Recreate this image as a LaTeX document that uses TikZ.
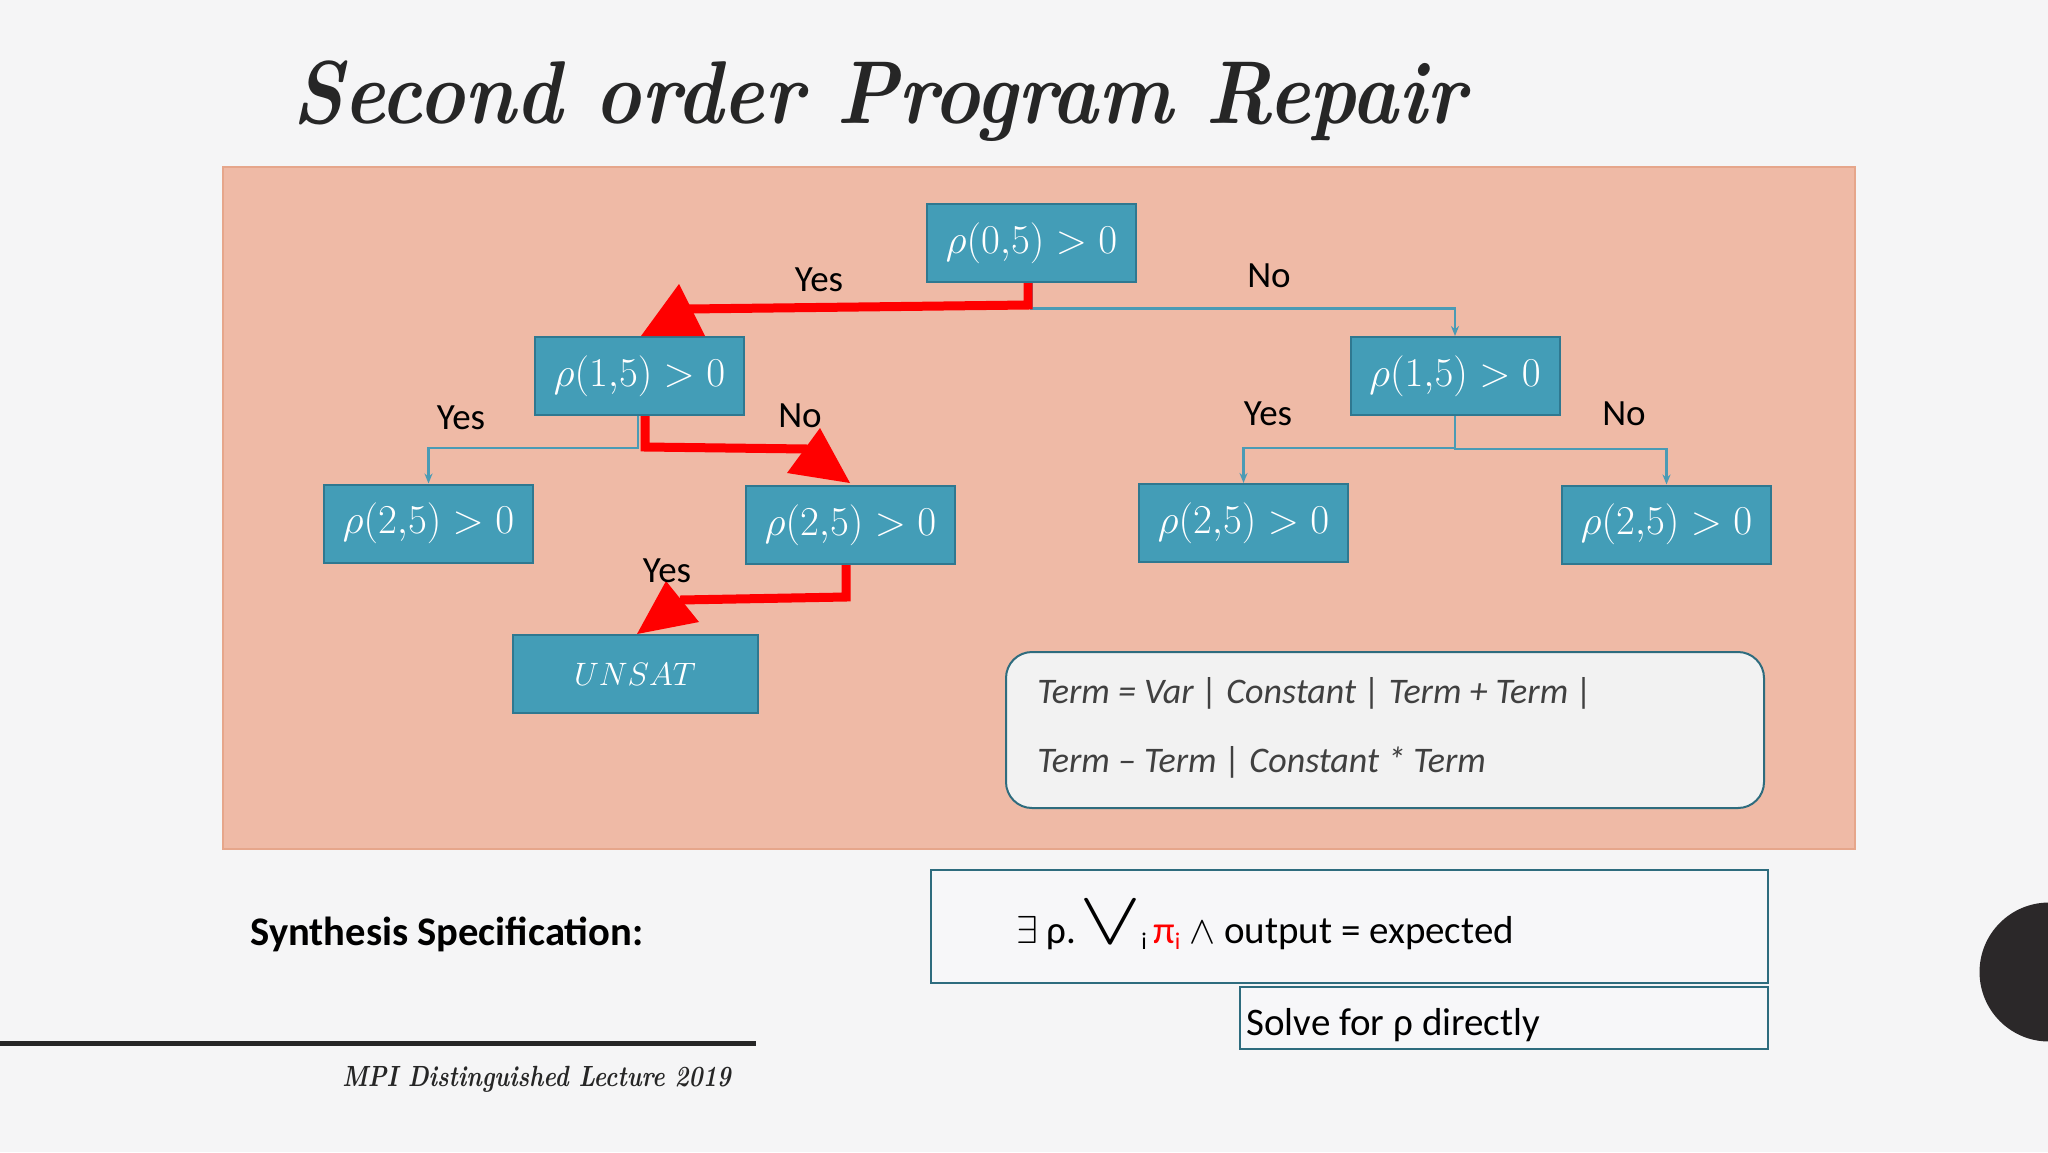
\RequirePackage{fix-cm}
\documentclass[tikz,border=0pt]{standalone}
\usepackage{fontspec}
\usepackage{graphicx}
\usetikzlibrary{arrows.meta,calc}
\newfontfamily\calib{Carlito}
\definecolor{bgc}{HTML}{F5F5F6}
\definecolor{panel}{HTML}{EFBAA6}
\definecolor{panelb}{HTML}{E6A68B}
\definecolor{nodef}{HTML}{439DB7}
\definecolor{nodeb}{HTML}{2F7890}
\definecolor{conn}{HTML}{4A9BB5}
\definecolor{gram}{HTML}{F2F2F2}
\definecolor{specf}{HTML}{F7F7F9}
\definecolor{gramb}{HTML}{2E6C7E}
\definecolor{dark}{HTML}{262626}
\definecolor{gtext}{HTML}{404040}
\definecolor{circc}{HTML}{2B2829}
\begin{document}
\begin{tikzpicture}[x=0.5pt,y=-0.5pt,
  cond/.style={rectangle, fill=nodef, draw=nodeb, line width=1pt, minimum width=104.5pt, minimum height=39pt, text=white, font=\fontsize{20.5}{24}\selectfont, inner sep=0pt},
  lbl/.style={font=\calib\fontsize{18.5}{22}\selectfont, text=black, inner sep=0pt},
  bconn/.style={draw=conn, line width=1.2pt, -{Stealth[length=5pt,width=4pt]}},
  rconn/.style={draw=red, line width=4.5pt},
  txt/.style={anchor=base west, inner sep=0pt},
]
\fill[bgc] (0,0) rectangle (2048,1152);
\useasboundingbox (0,0) rectangle (2048,1152);
% panel
\filldraw[fill=panel, draw=panelb, line width=0.75pt] (223,167) rectangle (1855,849);
% title
\node[txt, text=dark, font=\fontsize{44.6}{50}\selectfont\bfseries\itshape] (title) at (292,123) {\scalebox{0.882}[1]{Second order Program Repair}};
% tree nodes
\node[cond] (root) at (1031.5,243) {$\rho(0{,}5) > 0$};
\node[cond] (L1) at (639.5,376) {$\rho(1{,}5) > 0$};
\node[cond] (R1) at (1455,376) {$\rho(1{,}5) > 0$};
\node[cond] (LL) at (428.5,523.5) {$\rho(2{,}5) > 0$};
\node[cond] (LR) at (850.5,525) {$\rho(2{,}5) > 0$};
\node[cond] (RL) at (1243.5,523) {$\rho(2{,}5) > 0$};
\node[cond] (RR) at (1666.5,524.5) {$\rho(2{,}5) > 0$};
\node[cond, minimum width=122.5pt, font=\fontsize{16.2}{19}\selectfont] (unsat) at (635,674) {$UNSAT$};
% blue connectors
\draw[bconn] (root.south) -- ++(0,25.5) -| (R1.north);
\draw[bconn] ([xshift=-0.75pt]L1.south) -- ++(0,32) -| (LL.north);
\draw[bconn] (R1.south) -- ++(0,32) -| (RL.north);
\draw[bconn] (R1.south) -- ++(0,33) -| (RR.north);
% red connectors
\draw[rconn] ($(root.south)+(-3.5,0)$) -- ++(0,22) -- ($(L1.north)+(48,-27)$);
\fill[red] ($(L1.north)+(39.5,-52)$) -- ($(L1.north)+(1.5,0)$) -- ($(L1.north)+(65.5,0)$) -- cycle;
\draw[rconn] ($(L1.south)+(5.5,0)$) -- ++(0,31) -- ($(LR.north)+(-43,-36)$);
\fill[red] ($(LR.north)+(-30.5,-57)$) -- ($(LR.north)+(-63.5,-12)$) -- ($(LR.north)+(-0.5,-2)$) -- cycle;
\draw[rconn] ($(LR.south)+(-4.5,0)$) -- ++(0,32) -- ($(unsat.north)+(45,-34)$);
\fill[red] ($(unsat.north)+(31,-53)$) -- ($(unsat.north)+(2,0)$) -- ($(unsat.north)+(64,-12)$) -- cycle;
% labels
\node[lbl] (y1) at (819,280) {Yes};
\node[lbl] (n1) at (1269,276) {No};
\node[lbl] (y2) at (461,418) {Yes};
\node[lbl] (n2) at (800,416) {No};
\node[lbl] (y3) at (1268,414) {Yes};
\node[lbl] (n3) at (1624,414) {No};
\node[lbl] (y4) at (667,571) {Yes};
% grammar box
\node[draw=gramb, fill=gram, rounded corners=13pt, line width=1pt, minimum width=379pt, minimum height=78pt] (gram) at (1385,730) {};
\node[txt, font=\calib\itshape\fontsize{18}{22}\selectfont, text=gtext] (g1) at (1037,703) {Term = Var | Constant | Term + Term |};
\node[txt, font=\calib\itshape\fontsize{18}{22}\selectfont, text=gtext] (g2) at (1037,772) {Term – Term | Constant * Term};
% spec
\node[txt, font=\calib\bfseries\fontsize{20.3}{24}\selectfont, text=black] (synth) at (250,945) {Synthesis Specification:};
\node[draw=gramb, fill=specf, line width=1pt, minimum width=418.5pt, minimum height=56.5pt] (spec) at (1349.5,926.5) {};
\node[txt, font=\calib\fontsize{19.5}{23}\selectfont, text=black] (spectext) at (1016,943) {$\exists$ ρ.\hspace{1.4pt}\resizebox{31pt}{21pt}{$\vee$}\raisebox{-3pt}{\fontsize{12}{14}\selectfont i}\,\textcolor{red}{π\raisebox{-3pt}{\fontsize{12}{14}\selectfont i}} $\wedge$ output = expected};
\node[draw=gramb, fill=specf, line width=1pt, minimum width=264pt, minimum height=31pt] (solve) at (1504,1018) {};
\node[txt, font=\calib\fontsize{19.5}{23}\selectfont, text=black] (solvetext) at (1246,1035) {Solve for ρ directly};
% footer
\draw[dark, line width=2.5pt] (0,1043.5) -- (756,1043.5);
\node[txt, text=dark, font=\fontsize{14.6}{17}\selectfont\bfseries\itshape] (mpi) at (342,1086) {\scalebox{0.815}[1]{MPI Distinguished Lecture 2019}};
\fill[circc] (2049,972) circle (69.5);
\end{tikzpicture}
\end{document}
